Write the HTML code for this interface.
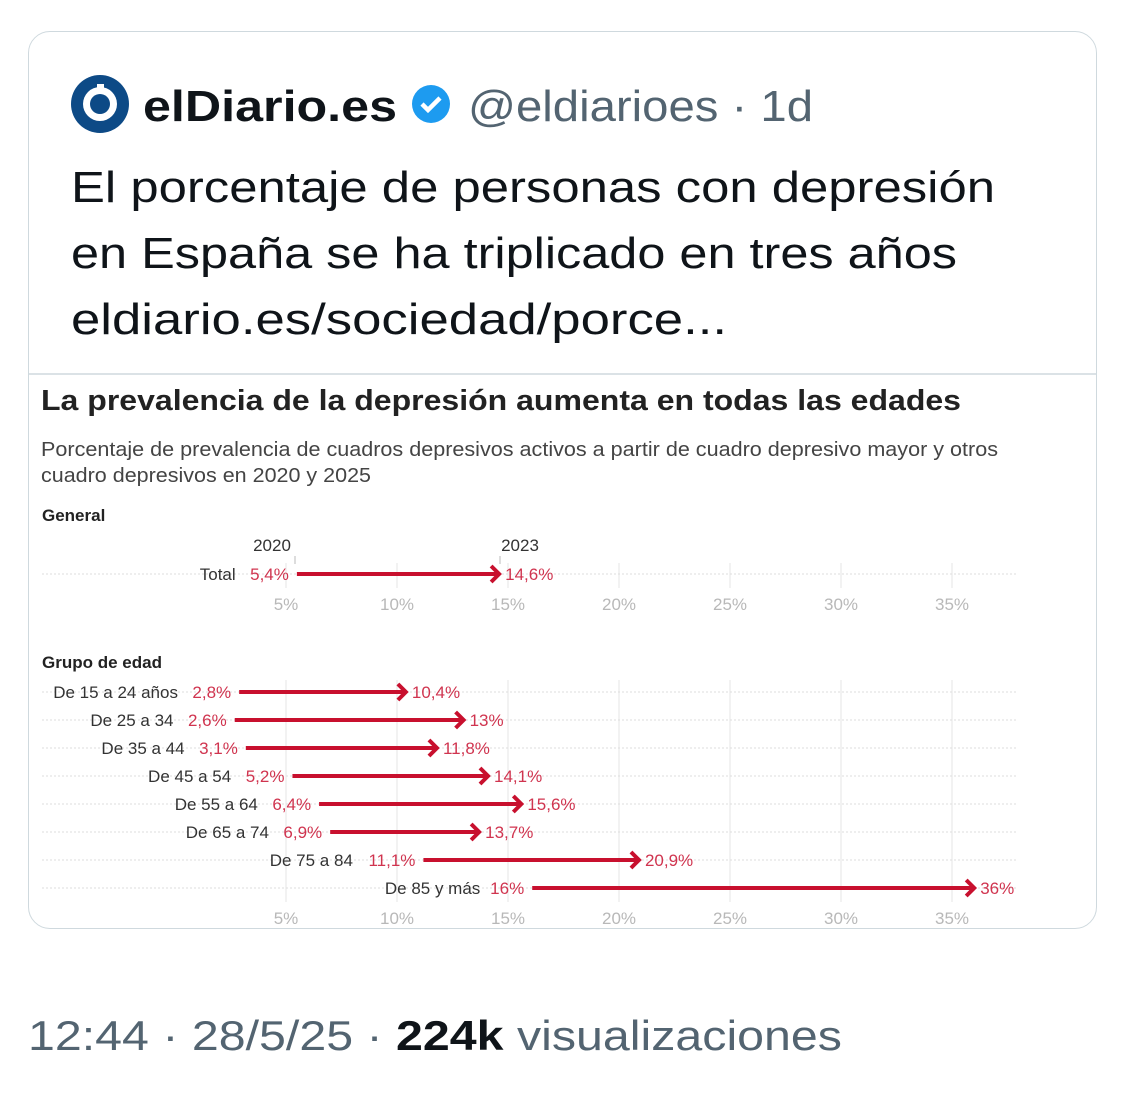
<!DOCTYPE html>
<html><head><meta charset="utf-8"><style>
body{margin:0;background:#fff;width:1125px;height:1094px;overflow:hidden;font-family:"Liberation Sans",sans-serif}
.card{position:absolute;left:28px;top:31px;width:1067px;height:896px;border:1.5px solid #cfd9de;border-radius:22px;overflow:hidden}
</style></head><body>
<div class="card"></div>
<svg width="1125" height="1094" style="position:absolute;left:0;top:0" font-family="Liberation Sans, sans-serif">
<circle cx="100" cy="104" r="29" fill="#0d4a86"/>
<circle cx="100" cy="104" r="17" fill="#fff"/>
<circle cx="100" cy="104" r="10" fill="#0d4a86"/>
<rect x="97" y="84" width="7" height="10" fill="#fff"/>
<text x="143" y="121" font-size="44" font-weight="bold" fill="#0f1419" textLength="254" lengthAdjust="spacingAndGlyphs">elDiario.es</text>
<circle cx="431" cy="104" r="19" fill="#1d9bf0"/>
<path d="M422 104 l6 6 l12 -12" stroke="#fff" stroke-width="4.5" fill="none"/>
<text x="468" y="121" font-size="44" fill="#536471" textLength="345" lengthAdjust="spacingAndGlyphs">@eldiarioes · 1d</text>
<text x="71" y="202" font-size="44" fill="#0f1419" textLength="924" lengthAdjust="spacingAndGlyphs">El porcentaje de personas con depresión</text>
<text x="71" y="268" font-size="44" fill="#0f1419" textLength="886" lengthAdjust="spacingAndGlyphs">en España se ha triplicado en tres años</text>
<text x="71" y="334" font-size="44" fill="#0f1419" textLength="656" lengthAdjust="spacingAndGlyphs">eldiario.es/sociedad/porce...</text>
<line x1="29" y1="374" x2="1096" y2="374" stroke="#cfd9de" stroke-width="1.5"/>
<text x="41" y="410" font-size="29" font-weight="bold" fill="#222" textLength="920" lengthAdjust="spacingAndGlyphs">La prevalencia de la depresión aumenta en todas las edades</text>
<text x="41" y="456" font-size="20" fill="#444" textLength="957" lengthAdjust="spacingAndGlyphs">Porcentaje de prevalencia de cuadros depresivos activos a partir de cuadro depresivo mayor y otros</text>
<text x="41" y="482" font-size="20" fill="#444" textLength="330" lengthAdjust="spacingAndGlyphs">cuadro depresivos en 2020 y 2025</text>
<text x="42" y="521" font-size="17" font-weight="bold" fill="#222">General</text>
<text x="42" y="668" font-size="17" font-weight="bold" fill="#222">Grupo de edad</text>
<g stroke="#e6e6e6" stroke-width="1">
<line x1="286" y1="563" x2="286" y2="588"/><line x1="397" y1="563" x2="397" y2="588"/><line x1="508" y1="563" x2="508" y2="588"/><line x1="619" y1="563" x2="619" y2="588"/><line x1="730" y1="563" x2="730" y2="588"/><line x1="841" y1="563" x2="841" y2="588"/><line x1="952" y1="563" x2="952" y2="588"/>
<line x1="286" y1="680" x2="286" y2="902"/><line x1="397" y1="680" x2="397" y2="902"/><line x1="508" y1="680" x2="508" y2="902"/><line x1="619" y1="680" x2="619" y2="902"/><line x1="730" y1="680" x2="730" y2="902"/><line x1="841" y1="680" x2="841" y2="902"/><line x1="952" y1="680" x2="952" y2="902"/>
</g>
<g stroke="#ddd" stroke-dasharray="2,2">
<line x1="42" y1="574" x2="1016" y2="574"/>
<line x1="42" y1="692" x2="1016" y2="692"/><line x1="42" y1="720" x2="1016" y2="720"/><line x1="42" y1="748" x2="1016" y2="748"/><line x1="42" y1="776" x2="1016" y2="776"/><line x1="42" y1="804" x2="1016" y2="804"/><line x1="42" y1="832" x2="1016" y2="832"/><line x1="42" y1="860" x2="1016" y2="860"/><line x1="42" y1="888" x2="1016" y2="888"/>
</g>
<g font-size="17" fill="#b8b8b8" text-anchor="middle">
<text x="286" y="610">5%</text><text x="397" y="610">10%</text><text x="508" y="610">15%</text><text x="619" y="610">20%</text><text x="730" y="610">25%</text><text x="841" y="610">30%</text><text x="952" y="610">35%</text>
<text x="286" y="924">5%</text><text x="397" y="924">10%</text><text x="508" y="924">15%</text><text x="619" y="924">20%</text><text x="730" y="924">25%</text><text x="841" y="924">30%</text><text x="952" y="924">35%</text>
</g>
<text x="272" y="551" font-size="17" fill="#333" text-anchor="middle">2020</text>
<text x="520" y="551" font-size="17" fill="#333" text-anchor="middle">2023</text>
<line x1="295" y1="556" x2="295" y2="564" stroke="#bbb"/><line x1="500" y1="556" x2="500" y2="564" stroke="#bbb"/>
<g id="rows" font-size="17"></g>
<text x="28" y="1050" font-size="42" fill="#536471" textLength="814" lengthAdjust="spacingAndGlyphs">12:44 · 28/5/25 · <tspan font-weight="bold" fill="#0f1419">224k</tspan> visualizaciones</text>
</svg>
<script>
const rows=[["Total",5.4,14.6,574,"5,4%","14,6%"],["De 15 a 24 años",2.8,10.4,692,"2,8%","10,4%"],["De 25 a 34",2.6,13,720,"2,6%","13%"],["De 35 a 44",3.1,11.8,748,"3,1%","11,8%"],["De 45 a 54",5.2,14.1,776,"5,2%","14,1%"],["De 55 a 64",6.4,15.6,804,"6,4%","15,6%"],["De 65 a 74",6.9,13.7,832,"6,9%","13,7%"],["De 75 a 84",11.1,20.9,860,"11,1%","20,9%"],["De 85 y más",16,36,888,"16%","36%"]];
const X=v=>175+v*22.2;let h="";
for(const[n,a,b,y,la,lb]of rows){const x1=X(a)+2,x2=X(b);
h+=`<line x1="${x1}" y1="${y}" x2="${x2-2}" y2="${y}" stroke="#c8102e" stroke-width="4"/>`;
h+=`<path d="M${x2-8} ${y-8} L${x2} ${y} L${x2-8} ${y+8}" stroke="#c8102e" stroke-width="4" fill="none"/>`;
h+=`<text x="${x1-8}" y="${y+6}" fill="#d0344f" text-anchor="end">${la}</text>`;
const lw=la.length*9.3+16;
h+=`<text x="${x1-8-lw}" y="${y+6}" fill="#333" text-anchor="end">${n}</text>`;
h+=`<text x="${x2+6}" y="${y+6}" fill="#d0344f">${lb}</text>`;}
document.getElementById("rows").innerHTML=h;
</script>
</body></html>
